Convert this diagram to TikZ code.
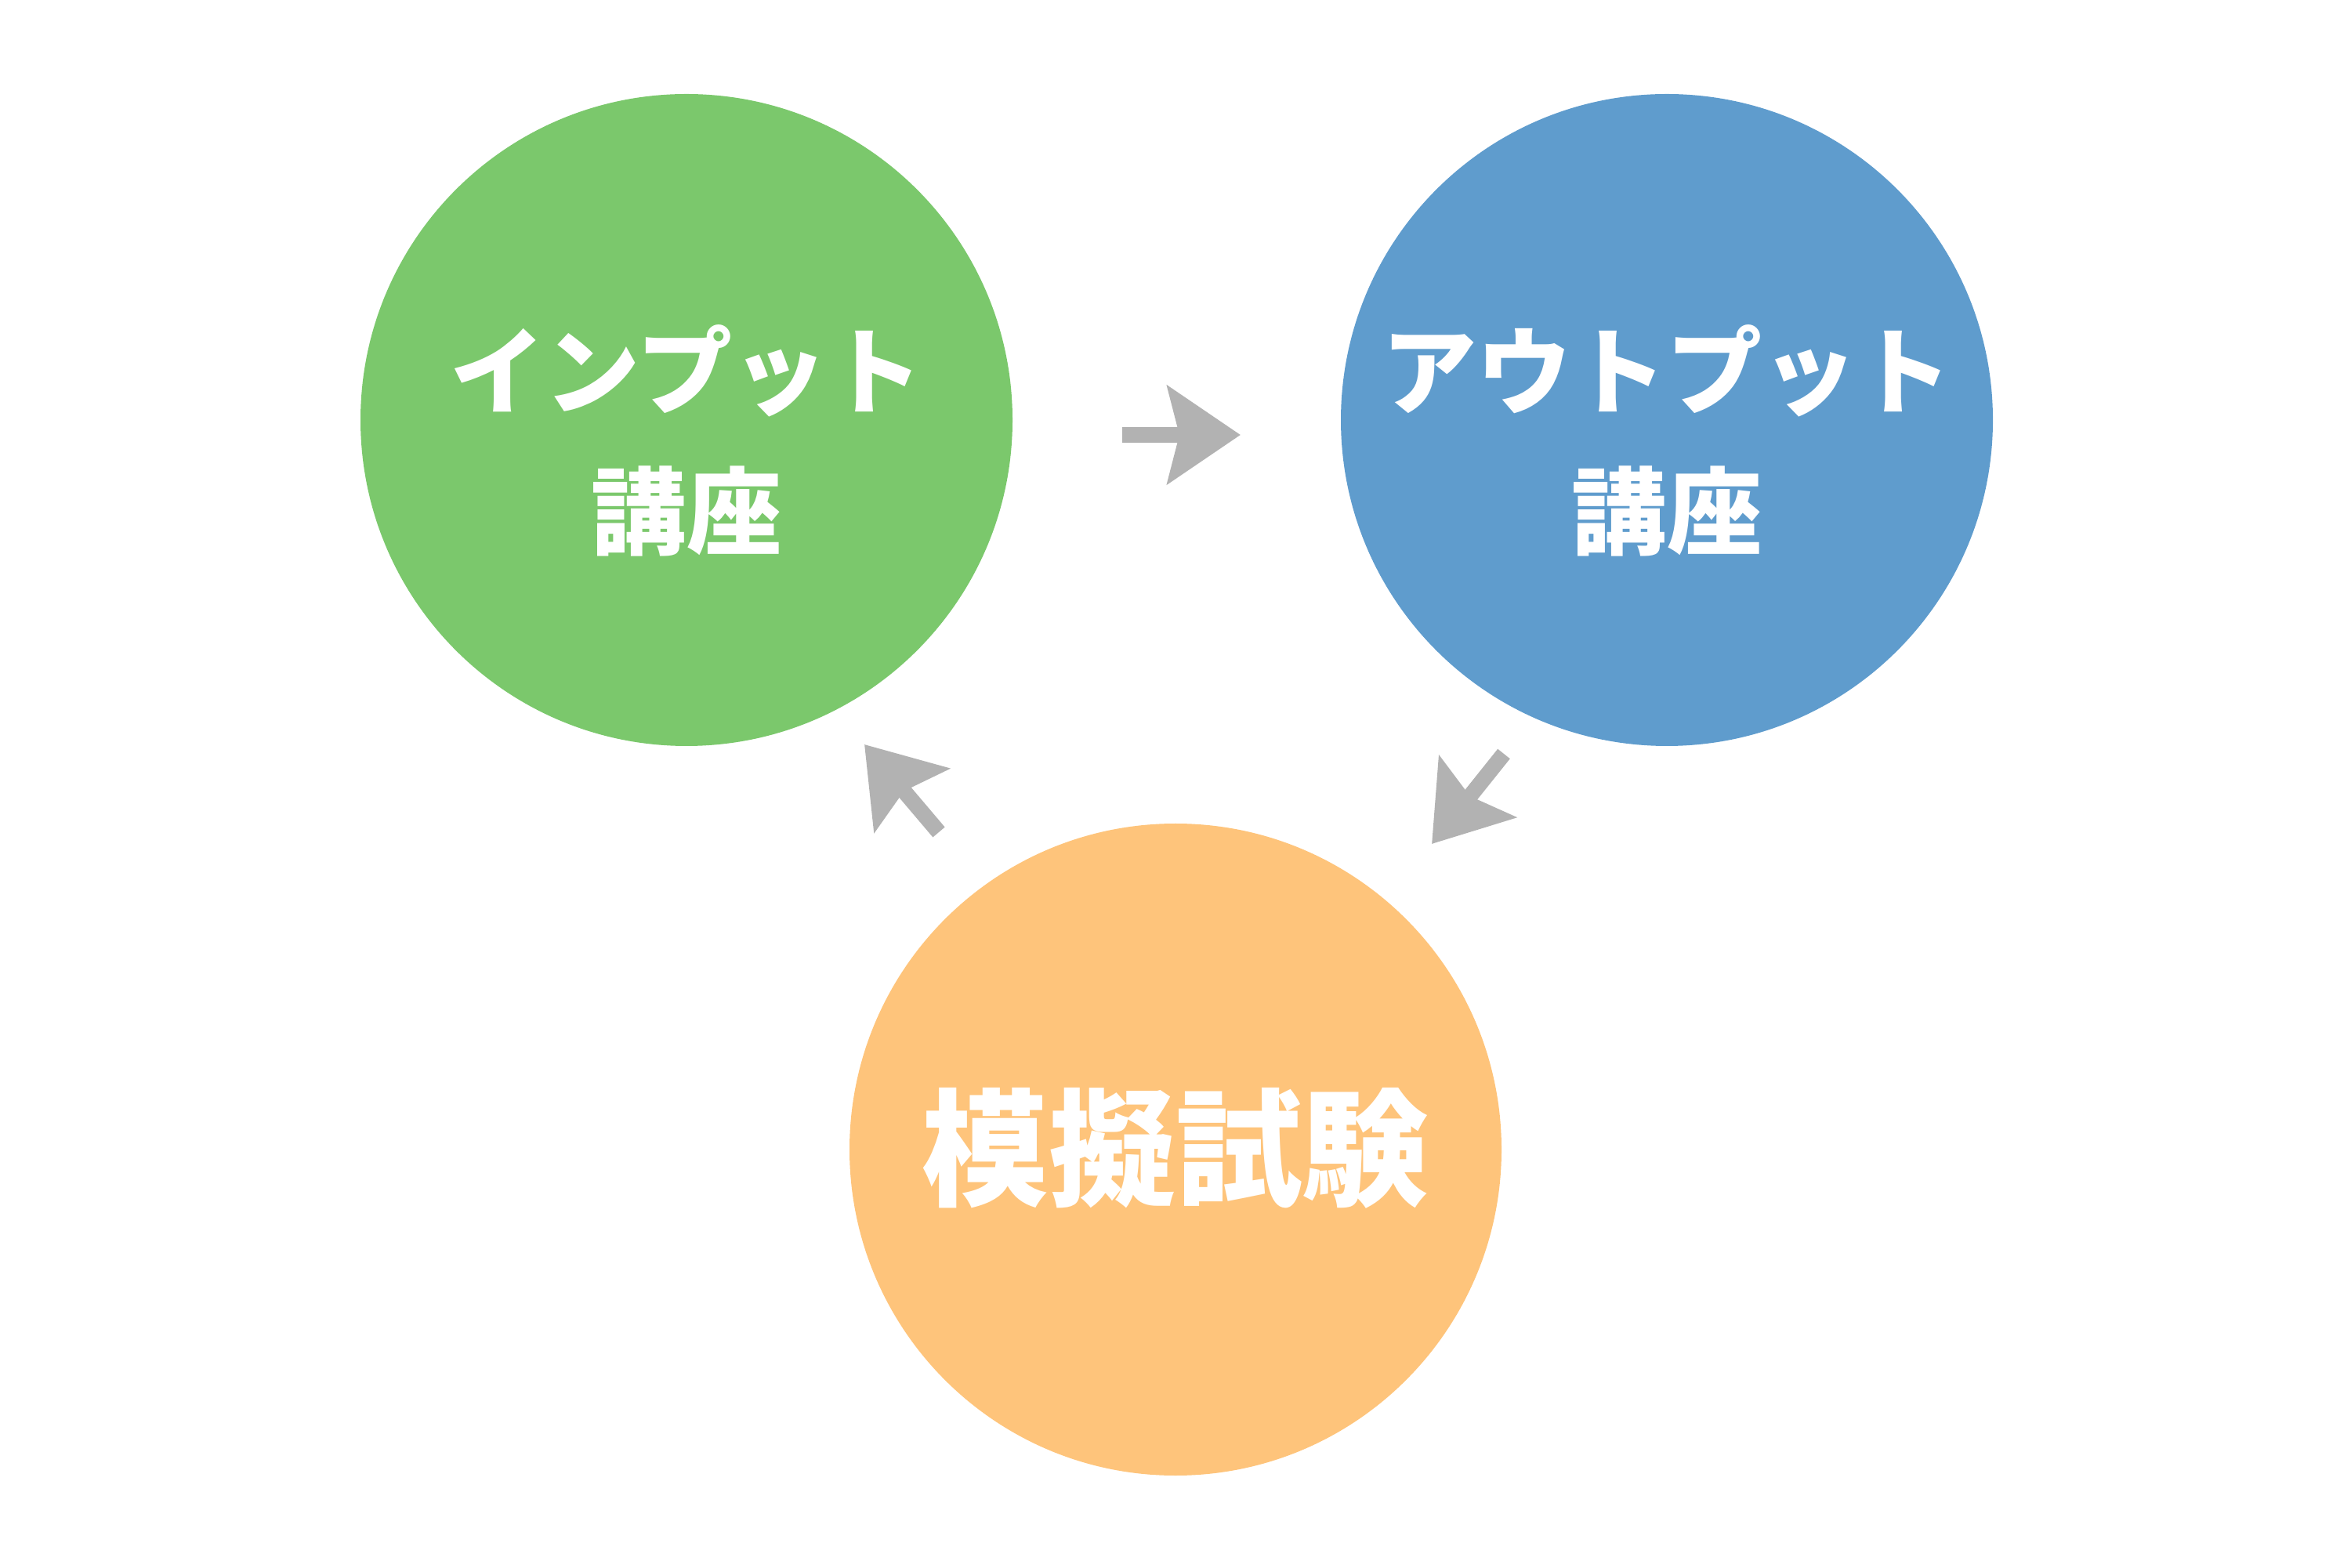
\documentclass[tikz,border=0pt]{standalone}
\usepackage{fontspec}
\newfontfamily\jpfont{Noto Sans CJK JP}
\usetikzlibrary{arrows.meta}
\definecolor{inputgreen}{HTML}{7BC86C}
\definecolor{outputblue}{HTML}{5F9CCD}
\definecolor{mockorange}{HTML}{FEC47B}
\definecolor{cyclegray}{HTML}{B2B2B2}
\begin{document}
\begin{tikzpicture}[circle, course/.style={circle,minimum size=8.32cm,inner sep=0pt,text=white,align=center,font=\jpfont\bfseries\fontsize{34.5}{51}\selectfont}, cycle/.style={draw=cyclegray,line width=0.2cm,-{Stealth[length=0.93cm,width=1.24cm,inset=0.15cm]}}]
\useasboundingbox (0,0) rectangle (30,20);

\node[course,fill=inputgreen] (input) at (8.76, 14.64) {};
\node[course,fill=outputblue] (output) at (21.27, 14.64) {};
\node[course,fill=mockorange] (mock) at (15.00, 5.33) {};

\node[course,minimum size=0pt] (inputtext) at (8.76, 14.38) {インプット\\講座};
\node[course,minimum size=0pt] (outputtext) at (21.27, 14.38) {アウトプット\\講座};
\node[course,minimum size=0pt,font=\jpfont\bfseries\fontsize{46}{50}\selectfont] (mocktext) at (15.00, 5.35) {模擬試験};

\coordinate (a1) at (14.32, 14.45);
\coordinate (b1) at (15.83, 14.45);
\coordinate (a2) at (19.19, 10.38);
\coordinate (b2) at (18.27, 9.23);
\coordinate (a3) at (11.98, 9.38);
\coordinate (b3) at (11.03, 10.50);

\draw [cycle] (a1) -- (b1);
\draw [cycle] (a2) -- (b2);
\draw [cycle] (a3) -- (b3);

\end{tikzpicture}
\end{document}
